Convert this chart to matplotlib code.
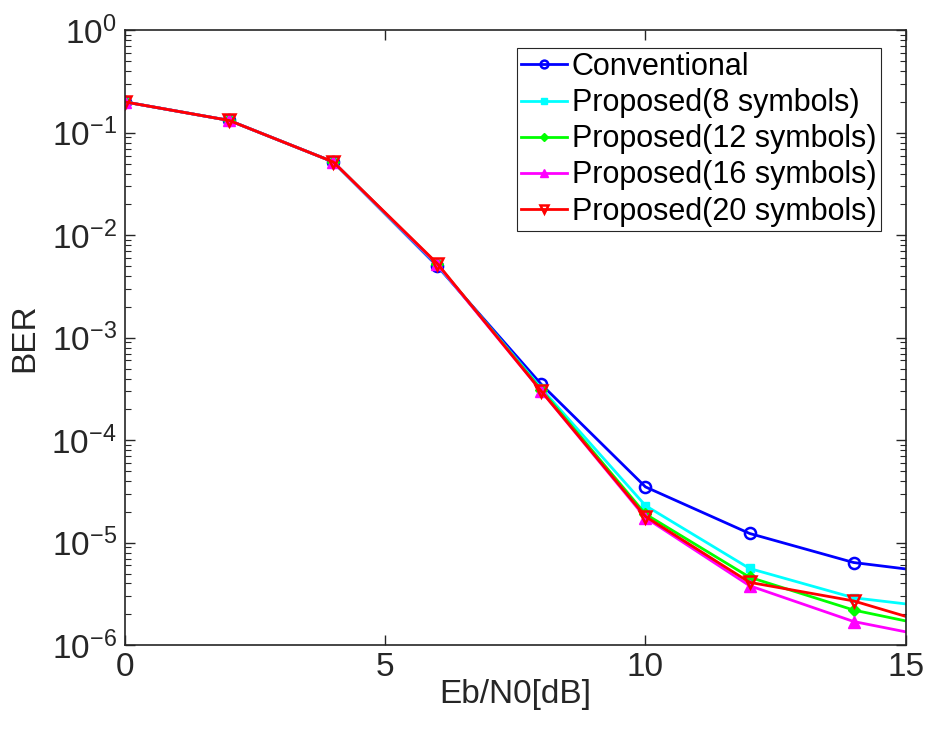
import numpy as np
import matplotlib
matplotlib.use('Agg')
import matplotlib.pyplot as plt
from matplotlib.ticker import FuncFormatter

plt.rcParams['font.family'] = ['Liberation Sans', 'DejaVu Sans']

# Eb/N0 points (last one lies past the axis limit, line gets clipped at 15)
ebn0 = [0, 2, 4, 6, 8, 10, 12, 14, 16]

ber_conv = [0.2, 0.132, 0.052, 0.0050, 3.5e-4, 3.5e-5, 1.23e-5, 6.4e-6, 4.8e-6]
ber_p8 = [0.2, 0.132, 0.052, 0.0051, 3.2e-4, 2.3e-5, 5.6e-6, 2.9e-6, 2.2e-6]
ber_p12 = [0.2, 0.132, 0.052, 0.0052, 3.1e-4, 1.9e-5, 4.6e-6, 2.2e-6, 1.35e-6]
ber_p16 = [0.2, 0.132, 0.052, 0.0052, 3.0e-4, 1.75e-5, 3.8e-6, 1.7e-6, 1.07e-6]
ber_p20 = [0.2, 0.132, 0.052, 0.0053, 3.0e-4, 1.8e-5, 4.1e-6, 2.7e-6, 1.35e-6]

labels = ['Conventional', 'Proposed(8 symbols)', 'Proposed(12 symbols)',
          'Proposed(16 symbols)', 'Proposed(20 symbols)']

fig = plt.figure(figsize=(9.28, 7.39), dpi=100)
ax = fig.add_axes([0.1347, 0.127, 0.8413, 0.832])

lw = 2.0
ax.semilogy(ebn0, ber_conv, '-o', color='#0000FF', lw=lw, ms=8, mfc='none', mew=1.8, label=labels[0])
ax.semilogy(ebn0, ber_p8, '-s', color='#00FFFF', lw=lw, ms=6, label=labels[1])
ax.semilogy(ebn0, ber_p12, '-D', color='#00FF00', lw=lw, ms=6, label=labels[2])
ax.semilogy(ebn0, ber_p16, '-^', color='#FF00FF', lw=lw, ms=9, label=labels[3])
ax.semilogy(ebn0, ber_p20, '-v', color='#FF0000', lw=lw, ms=9, mfc='none', mew=1.8, label=labels[4])

ax.set_xlim(0, 15)
ax.set_ylim(1e-6, 1)
ax.set_xticks([0, 5, 10, 15])
ax.set_yticks([1e-6, 1e-5, 1e-4, 1e-3, 1e-2, 1e-1, 1])
ax.yaxis.set_major_formatter(FuncFormatter(
    lambda v, p: r'$\mathregular{10^{%d}}$' % int(round(np.log10(v)))))
ax.tick_params(axis='both', which='both', direction='in', top=True, right=True,
               labelsize=24, colors='#262626')
ax.tick_params(which='major', length=7, width=1)
ax.tick_params(which='minor', length=4, width=0.8)
ax.tick_params(axis='x', pad=5)
ax.tick_params(axis='y', pad=6)
for s in ax.spines.values():
    s.set_color('#262626')
    s.set_linewidth(1.2)

ax.set_xlabel('Eb/N0[dB]', fontsize=24, color='#262626', labelpad=-3)
ax.set_ylabel('BER', fontsize=24, color='#262626', labelpad=8)

leg = ax.legend(loc='upper right', bbox_to_anchor=(0.968, 0.972), fontsize=22,
                fancybox=False, framealpha=1, edgecolor='#262626',
                handlelength=1.5, handletextpad=0.15, borderpad=0.15,
                labelspacing=0.2, borderaxespad=0, markerscale=0.7)
leg.get_frame().set_linewidth(0.8)

fig.savefig('out.png', dpi=100)
